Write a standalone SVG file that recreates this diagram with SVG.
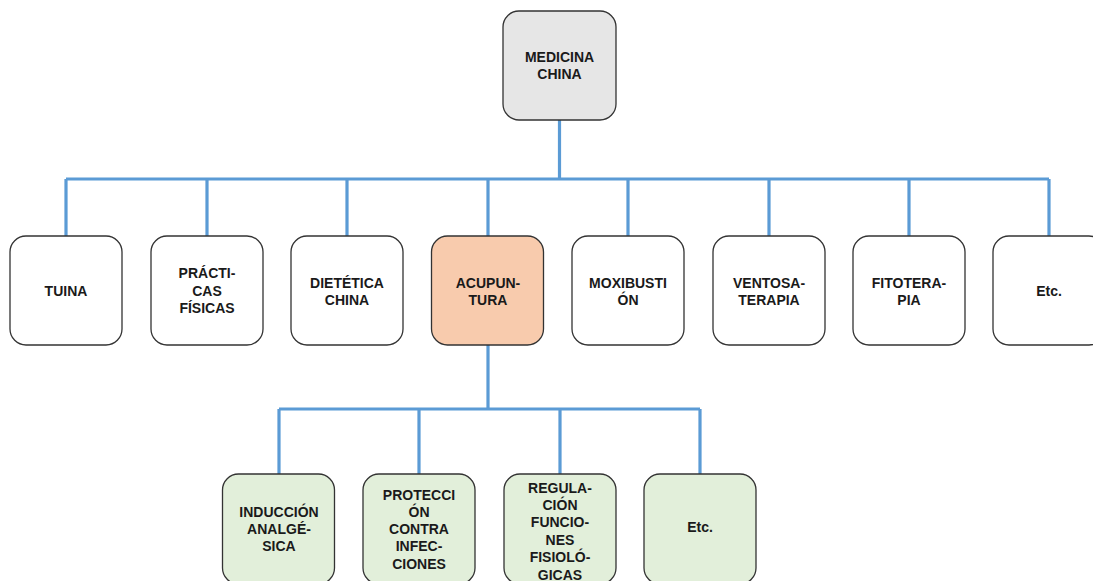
<svg xmlns="http://www.w3.org/2000/svg" width="1093" height="581" viewBox="0 0 1093 581">
  <style>
    .box { stroke: #333333; stroke-width: 1.3; }
    .root { fill: #e6e6e6; }
    .plain { fill: #ffffff; }
    .main { fill: #f8cbad; }
    .leaf { fill: #e2efda; }
    .lbl { font-family: "Liberation Sans", Arial, sans-serif; font-size: 14px; font-weight: bold; fill: #1a1a1a; text-anchor: middle; dominant-baseline: central; }
    .conn { fill: none; stroke: #5b9bd5; stroke-width: 3.2; }
  </style>
  <rect width="1093" height="581" fill="#ffffff"/>

  <g id="connectors">
    <path class="conn" d="M559.5 120 V179 M66 179 H1049 M66 179 V236 M207 179 V236 M347 179 V236 M488 179 V236 M628 179 V236 M769 179 V236 M909 179 V236 M1049 179 V236"/>
    <path class="conn" d="M488 345 V409 M279 409 H700 M279 409 V474 M419 409 V474 M560 409 V474 M700 409 V474"/>
  </g>

  <g id="medicina-china">
    <rect class="box root" x="503" y="11" width="113" height="109" rx="16"/>
    <text class="lbl" x="559.5"><tspan x="559.5" y="57">MEDICINA</tspan><tspan x="559.5" y="74">CHINA</tspan></text>
  </g>

  <g id="tuina">
    <rect class="box plain" x="10" y="236" width="112" height="109" rx="16"/>
    <text class="lbl" x="66" y="291">TUINA</text>
  </g>
  <g id="practicas-fisicas">
    <rect class="box plain" x="151" y="236" width="112" height="109" rx="16"/>
    <text class="lbl"><tspan x="207" y="273">PRÁCTI-</tspan><tspan x="207" y="290.5">CAS</tspan><tspan x="207" y="308">FÍSICAS</tspan></text>
  </g>
  <g id="dietetica-china">
    <rect class="box plain" x="291" y="236" width="112" height="109" rx="16"/>
    <text class="lbl"><tspan x="347" y="282.5">DIETÉTICA</tspan><tspan x="347" y="299.5">CHINA</tspan></text>
  </g>
  <g id="acupuntura">
    <rect class="box main" x="431.5" y="236" width="112" height="109" rx="16"/>
    <text class="lbl"><tspan x="488" y="282.5">ACUPUN-</tspan><tspan x="488" y="299.5">TURA</tspan></text>
  </g>
  <g id="moxibustion">
    <rect class="box plain" x="572" y="236" width="112" height="109" rx="16"/>
    <text class="lbl"><tspan x="628" y="282.5">MOXIBUSTI</tspan><tspan x="628" y="299.5">ÓN</tspan></text>
  </g>
  <g id="ventosaterapia">
    <rect class="box plain" x="713" y="236" width="112" height="109" rx="16"/>
    <text class="lbl"><tspan x="769" y="282.5">VENTOSA-</tspan><tspan x="769" y="299.5">TERAPIA</tspan></text>
  </g>
  <g id="fitoterapia">
    <rect class="box plain" x="853" y="236" width="112" height="109" rx="16"/>
    <text class="lbl"><tspan x="909" y="282.5">FITOTERA-</tspan><tspan x="909" y="299.5">PIA</tspan></text>
  </g>
  <g id="etc-1">
    <rect class="box plain" x="993" y="236" width="112" height="109" rx="16"/>
    <text class="lbl" x="1049" y="291">Etc.</text>
  </g>

  <g id="induccion-analgesica">
    <rect class="box leaf" x="222.5" y="474" width="112" height="110" rx="16"/>
    <text class="lbl"><tspan x="279" y="512">INDUCCIÓN</tspan><tspan x="279" y="529">ANALGÉ-</tspan><tspan x="279" y="546">SICA</tspan></text>
  </g>
  <g id="proteccion-infecciones">
    <rect class="box leaf" x="363" y="474" width="112" height="110" rx="16"/>
    <text class="lbl"><tspan x="419" y="494.5">PROTECCI</tspan><tspan x="419" y="511.8">ÓN</tspan><tspan x="419" y="529">CONTRA</tspan><tspan x="419" y="546.3">INFEC-</tspan><tspan x="419" y="563.5">CIONES</tspan></text>
  </g>
  <g id="regulacion-funciones">
    <rect class="box leaf" x="504" y="474" width="112" height="110" rx="16"/>
    <text class="lbl"><tspan x="560" y="487.5">REGULA-</tspan><tspan x="560" y="505">CIÓN</tspan><tspan x="560" y="522.4">FUNCIO-</tspan><tspan x="560" y="539.8">NES</tspan><tspan x="560" y="557.2">FISIOLÓ-</tspan><tspan x="560" y="574.6">GICAS</tspan></text>
  </g>
  <g id="etc-2">
    <rect class="box leaf" x="644" y="474" width="112" height="110" rx="16"/>
    <text class="lbl" x="700" y="527">Etc.</text>
  </g>
</svg>
